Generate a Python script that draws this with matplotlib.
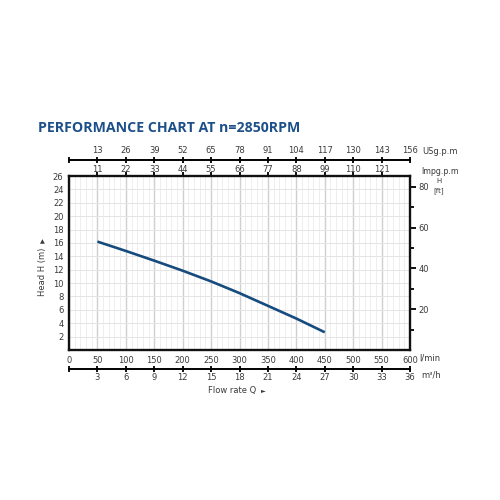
import matplotlib
matplotlib.use("Agg")
import matplotlib.pyplot as plt
import numpy as np

# ---- data ----
flow_lpm = [50, 100, 150, 200, 250, 300, 350, 400, 450]
head_m = [16.2, 14.8, 13.35, 11.85, 10.25, 8.5, 6.6, 4.7, 2.65]

lpm_ticks = [0, 50, 100, 150, 200, 250, 300, 350, 400, 450, 500, 550, 600]
head_ticks = [2, 4, 6, 8, 10, 12, 14, 16, 18, 20, 22, 24, 26]
ft_ticks = [20, 40, 60, 80]
ft_minor = [10, 30, 50, 70]
usgpm_labels = [13, 26, 39, 52, 65, 78, 91, 104, 117, 130, 143, 156]
impgpm_labels = [11, 22, 33, 44, 55, 66, 77, 88, 99, 110, 121]
m3h_labels = [3, 6, 9, 12, 15, 18, 21, 24, 27, 30, 33, 36]

TXT = "#3a3a3a"
BLUE = "#164b7e"
TITLE = "#1d5089"
FS = 6

fig = plt.figure(figsize=(5, 5), dpi=100)
fig.patch.set_facecolor("white")

L, R = 69 / 500, 410 / 500
B, T = 1 - 350 / 500, 1 - 176 / 500
ax = fig.add_axes([L, B, R - L, T - B])
ax.set_xlim(0, 600)
ax.set_ylim(0, 26)

# grid
for x in np.arange(0, 601, 10):
    major = (x % 50 == 0)
    ax.axvline(x, color="#cfcfcf" if major else "#ebebeb",
               lw=1.0 if major else 0.6, zorder=0)
for y in np.arange(0, 27, 2):
    ax.axhline(y, color="#e4e4e4", lw=0.7, zorder=0)

ax.plot(flow_lpm, head_m, color=BLUE, lw=1.9, zorder=3,
        solid_joinstyle="round", solid_capstyle="butt")

for s in ax.spines.values():
    s.set_linewidth(1.7)
    s.set_color("#111111")

ax.set_xticks(lpm_ticks)
ax.set_xticklabels([str(v) for v in lpm_ticks])
ax.set_yticks(head_ticks)
ax.set_yticklabels([str(v) for v in head_ticks])
ax.tick_params(axis="both", length=0, labelsize=FS, colors=TXT, pad=4)

# right axis in ft
axr = ax.twinx()
axr.set_ylim(0, 26 * 3.2808)
axr.set_yticks(ft_ticks)
axr.set_yticklabels([str(v) for v in ft_ticks])
axr.set_yticks(ft_minor, minor=True)
axr.tick_params(axis="y", which="major", length=4, width=1.4, labelsize=FS,
                colors=TXT, pad=2)
axr.tick_params(axis="y", which="minor", length=3, width=1.4)
axr.tick_params(axis="y", which="both", color="#111111")
for s in axr.spines.values():
    s.set_visible(False)

# top Impgpm axis on plot top
axt = ax.twiny()
axt.set_xlim(0, 600)
axt.set_xticks(lpm_ticks[1:-1])
axt.set_xticklabels([str(v) for v in impgpm_labels])
axt.tick_params(axis="x", length=3, width=1.4, labelsize=FS, colors=TXT,
                pad=-1.5, color="#111111")
for s in axt.spines.values():
    s.set_visible(False)

# USgpm separate axis line
yus = 1 - 160 / 500
axu = fig.add_axes([L, yus, R - L, 0.001])
axu.set_xlim(0, 600)
axu.set_ylim(0, 1)
axu.patch.set_visible(False)
for k in ["left", "right", "bottom"]:
    axu.spines[k].set_visible(False)
axu.spines["top"].set_linewidth(1.4)
axu.xaxis.set_ticks_position("top")
axu.set_xticks(lpm_ticks)
axu.set_xticklabels([""] + [str(v) for v in usgpm_labels])
axu.tick_params(axis="x", direction="inout", length=5, width=1.4,
                labelsize=FS, colors=TXT, pad=0.5, color="#111111")
axu.set_yticks([])

# m3/h separate axis line
ym = 1 - 368 / 500
axm = fig.add_axes([L, ym - 0.001, R - L, 0.001])
axm.set_xlim(0, 600)
axm.set_ylim(0, 1)
axm.patch.set_visible(False)
for k in ["left", "right", "top"]:
    axm.spines[k].set_visible(False)
axm.spines["bottom"].set_linewidth(1.4)
axm.set_xticks(lpm_ticks)
axm.set_xticklabels([""] + [str(v) for v in m3h_labels])
axm.tick_params(axis="x", direction="inout", length=5, width=1.4,
                labelsize=FS, colors=TXT, pad=1, color="#111111")
axm.set_yticks([])

# unit labels
fig.text(422 / 500, 1 - 152 / 500, "USg.p.m", fontsize=FS, color=TXT,
         va="center", ha="left")
fig.text(421 / 500, 1 - 171 / 500, "Impg.p.m", fontsize=FS - 0.3, color=TXT,
         va="center", ha="left")
fig.text(419 / 500, 1 - 358 / 500, "l/min", fontsize=FS, color=TXT,
         va="center", ha="left")
fig.text(421 / 500, 1 - 375 / 500, "m\u00b3/h", fontsize=FS, color=TXT,
         va="center", ha="left")
fig.text(439 / 500, 1 - 181 / 500, "H", fontsize=5, color=TXT,
         va="center", ha="center")
fig.text(439 / 500, 1 - 191 / 500, "[ft]", fontsize=5, color=TXT,
         va="center", ha="center")

# axis titles
fig.text(42 / 500, 1 - 272 / 500, "Head H (m)", fontsize=FS, color=TXT,
         rotation=90, va="center", ha="center")
fig.text(42 / 500, 1 - 242 / 500, "\u25b2", fontsize=4.5, color=TXT,
         va="center", ha="center")
fig.text(232 / 500, 1 - 391 / 500, "Flow rate Q", fontsize=FS, color=TXT,
         va="center", ha="center")
fig.text(263 / 500, 1 - 391 / 500, "\u25ba", fontsize=4.5, color=TXT,
         va="center", ha="center")

# title
fig.text(38 / 500, 1 - 128 / 500, "PERFORMANCE CHART AT n=2850RPM",
         fontsize=10.2, fontweight="bold", color=TITLE, va="center", ha="left",
         family="Open Sans")

fig.savefig("out.png", dpi=100, facecolor="white")
